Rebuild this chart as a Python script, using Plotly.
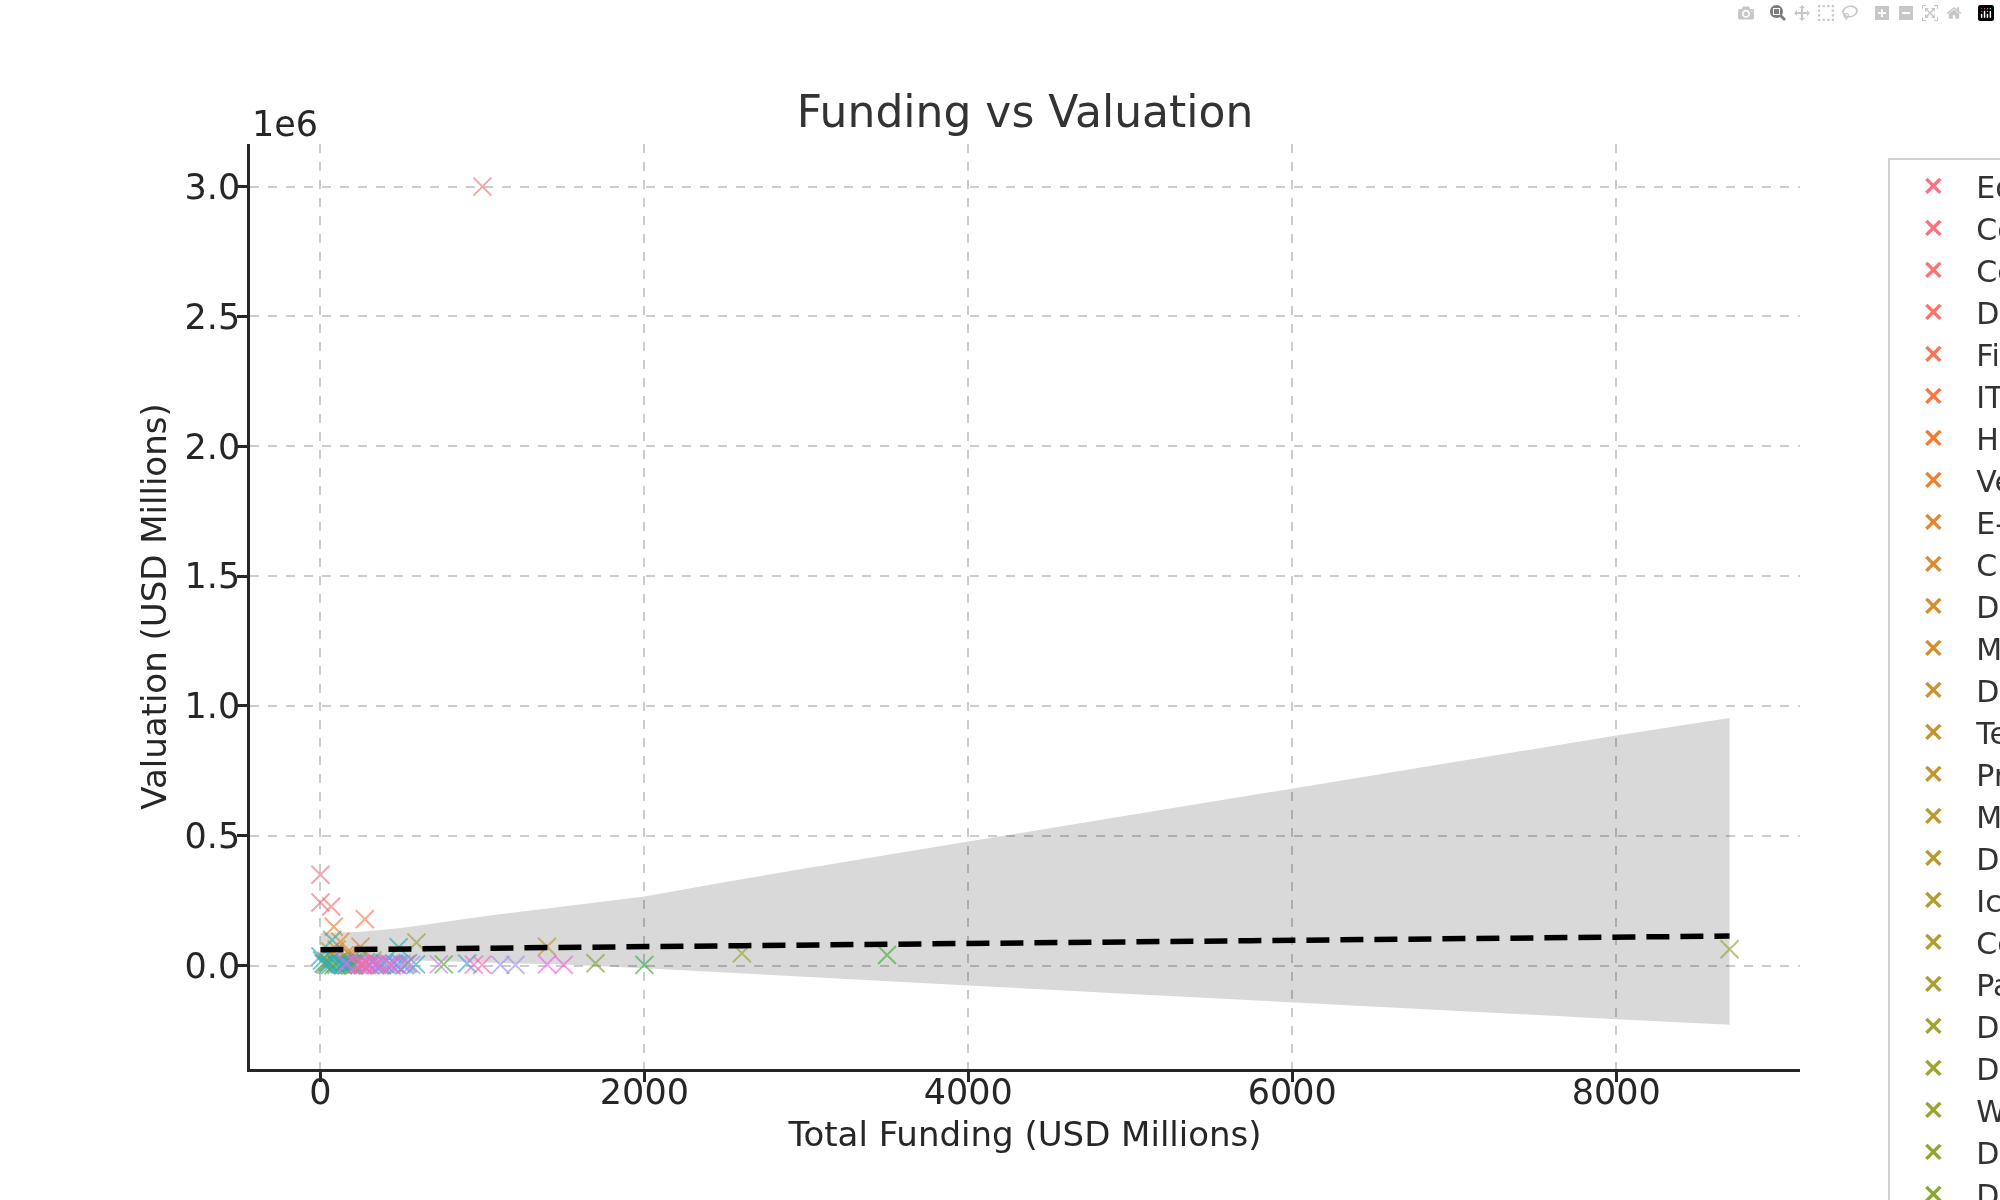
import math
import plotly.graph_objects as go

# industries in legend order (husl palette follows this order)
industries = [
    "EdTech", "Consumer Internet", "Computer Software", "Deeptech", "FinTech",
    "IT Services", "HealthTech", "Venture Capital", "E-Commerce", "Cloud Computing",
    "Digital Media", "Mobility", "Dairy", "Technology", "Professional Services",
    "Media", "Delivery", "Ice Cream", "Consumer Goods", "Payments",
    "Data Analytics", "Drone", "Wellness", "Design", "Digital Marketing",
    "Food & Beverages", "Gaming", "Hospitality", "Insurance", "Logistics",
    "Marketplace", "Nutrition", "Online Learning", "Pharmaceuticals", "Real Estate",
    "Retail", "SaaS", "Social Media", "Sports", "Travel",
    "AgriTech", "Artificial Intelligence", "Apparel", "Automotive", "Beauty",
    "Biotechnology", "Blockchain", "Clean Energy", "Content", "Cybersecurity",
    "Electric Vehicles", "Entertainment", "Fashion", "FMCG", "Gig Economy",
    "HR Tech", "IoT", "Jewellery", "Legal Tech", "Manufacturing",
    "Marketing", "Music", "News", "Personal Care", "Pet Care",
    "Recruitment", "Renewable Energy", "Robotics", "Security", "Skill Development",
    "Space Tech", "Telecom", "Textiles", "Transport", "Video Streaming",
    "Water Purification", "Wearables", "Home Services", "Hyperlocal", "Interior Design",
    "Kids", "Life Sciences", "Mental Health", "Mining", "Audio",
    "B2B", "Banking", "Augmented Reality",
]

# one entry per startup: industry index, total funding, valuation (USD millions)
point_industry = [0, 1, 2, 3, 4, 5, 6, 7, 8, 9, 9, 10, 11, 12, 13, 14, 15, 16, 17, 18,
                  19, 20, 21, 22, 23, 24, 25, 26, 27, 28, 29, 30, 30, 31, 32, 33, 34, 35, 36, 37,
                  38, 39, 40, 41, 42, 43, 44, 45, 46, 47, 47, 48, 49, 50, 51, 52, 53, 54, 55, 56,
                  57, 58, 59, 60, 61, 62, 63, 64, 65, 66, 67, 68, 69, 70, 71, 72, 73, 74, 75, 76,
                  77, 78, 79, 80, 81, 82, 83, 84, 85, 86, 87]
funding = [0, 0, 66, 1000, 40, 274, 180, 82, 247, 123, 150, 100, 200, 60, 230, 1399, 320, 140, 260, 380,
           593, 2602, 8700, 30, 200, 110, 80, 1698, 210, 90, 761, 3498, 190, 2000, 130, 50, 170, 150, 100, 200,
           280, 20, 140, 230, 60, 180, 10, 483, 72, 300, 590, 365, 470, 75, 45, 0, 540, 335, 395, 455,
           905, 520, 120, 160, 435, 500, 410, 320, 1204, 1111, 560, 480, 380, 731, 350, 255, 160, 1399, 440, 310,
           270, 1502, 220, 947, 350, 240, 290, 998, 425, 260, 530]
valuation = [350000, 243000, 228000, 3000000, 18000, 179000, 45000, 150000, 73000, 92000, 40000, 62000,
             30000, 55000, 25000, 73000, 20000, 4000, 6000, 2000,
             89000, 48000, 63000, 5000, 1000, 15000, 1000, 9000, 1000, 8000, 5000, 41000, 2000, 3000, 5000,
             12000, 3000, 10000, 3000, 12000,
             12000, 8000, 1000, 15000, 2000, 7000, 20000, 71000, 99000, 6000, 5000, 1000, 3000, 25000, 3000,
             35000, 9000, 3000, 9000, 8000,
             8000, 2000, 6000, 2000, 4000, 6000, 2000, 10000, 3000, 3000, 3000, 1000, 4000, 5000, 2000, 8000,
             9000, 5000, 1000, 2000,
             3000, 3000, 5000, 4000, 7000, 2000, 1000, 3000, 5000, 2000, 6000]

# regression fit and bootstrap confidence band
fit_x = [0, 8700]
fit_y = [61000, 114000]
band_x = [0, 250, 500, 1000, 1500, 2000, 2500, 3000, 4000, 5000, 6000, 7000, 8000, 8700]
band_hi = [126000, 131000, 145000, 189000, 228000, 266000, 322000, 375000, 478000, 580000,
           682000, 784000, 886000, 954000]
band_lo = [26000, 24000, 22000, 12000, 4000, -10000, -27000, -43000, -76000, -109000,
           -142000, -175000, -206000, -228000]

y_ticks = [0, 500000, 1000000, 1500000, 2000000, 2500000, 3000000]
y_tick_text = ["0.0", "0.5", "1.0", "1.5", "2.0", "2.5", "3.0"]
x_ticks = [0, 2000, 4000, 6000, 8000]


# seaborn-style husl palette
M = [[3.2406, -1.5372, -0.4986], [-0.9689, 1.8758, 0.0415], [0.0557, -0.2040, 1.0570]]
REF_U, REF_V = 0.19784, 0.46834


def max_chroma(L, H):
    hrad = math.radians(H)
    sinH, cosH = math.sin(hrad), math.cos(hrad)
    sub1 = (L + 16) ** 3 / 1560896.0
    sub2 = sub1 if sub1 > 0.008856 else L / 903.3
    result = float("inf")
    for m1, m2, m3 in M:
        top = (0.99915 * m1 + 1.05122 * m2 + 1.14460 * m3) * sub2
        rbottom = 0.86330 * m3 - 0.17266 * m2
        lbottom = 0.12949 * m3 - 0.38848 * m1
        bottom = (rbottom * sinH + lbottom * cosH) * sub2
        for t in (0.0, 1.0):
            C = L * (top - 1.05122 * t) / (bottom + 0.17266 * sinH * t)
            if 0 < C < result:
                result = C
    return result


def husl_to_hex(h, s, l):
    C = max_chroma(l, h) / 100.0 * s
    hrad = math.radians(h)
    U, V = math.cos(hrad) * C, math.sin(hrad) * C
    t = (l + 16.0) / 116.0
    Y = t ** 3 if t ** 3 > 0.008856 else (116.0 * t - 16.0) / 903.3
    varU = U / (13.0 * l) + REF_U
    varV = V / (13.0 * l) + REF_V
    X = -(9.0 * Y * varU) / ((varU - 4.0) * varV - varU * varV)
    Z = (9.0 * Y - 15.0 * varV * Y - varV * X) / (3.0 * varV)
    out = []
    for row in M:
        c = row[0] * X + row[1] * Y + row[2] * Z
        c = 12.92 * c if c <= 0.0031308 else 1.055 * c ** (1 / 2.4) - 0.055
        out.append(int(round(min(max(c, 0), 1) * 255)))
    return "#%02x%02x%02x" % tuple(out)


n = len(industries)
palette = [husl_to_hex(((i / n) + 0.01) % 1 * 359, 0.9 * 99, 0.65 * 99) for i in range(n)]

font = "DejaVu Sans"
ink = "#262626"

fig = go.Figure()

# confidence band
fig.add_trace(go.Scatter(x=band_x, y=band_lo, mode="lines", line=dict(width=0),
                         hoverinfo="skip", showlegend=False))
fig.add_trace(go.Scatter(x=band_x, y=band_hi, mode="lines", line=dict(width=0),
                         fill="tonexty", fillcolor="rgba(0,0,0,0.15)",
                         hoverinfo="skip", showlegend=False))

for i, name in enumerate(industries):
    xs = [funding[k] for k in range(len(funding)) if point_industry[k] == i]
    ys = [valuation[k] for k in range(len(valuation)) if point_industry[k] == i]
    fig.add_trace(go.Scatter(
        x=xs, y=ys, mode="markers", name=name, opacity=0.65, legendgroup=name, showlegend=False,
        marker=dict(symbol="x-thin", size=18, color=palette[i], line=dict(width=2, color=palette[i])),
    ))
    # solid legend key, like the matplotlib legend
    fig.add_trace(go.Scatter(
        x=[None], y=[None], mode="markers", name=name, legendgroup=name,
        marker=dict(symbol="x-thin", size=14, color=palette[i], line=dict(width=3.5, color=palette[i])),
    ))

# regression line
fig.add_trace(go.Scatter(x=fit_x, y=fit_y, mode="lines", showlegend=False,
                         line=dict(color="black", width=5.5, dash="23px,11px")))

fig.update_layout(
    width=2000, height=1200,
    margin=dict(l=250, r=200, t=144, b=131, autoexpand=False),
    paper_bgcolor="white", plot_bgcolor="white",
    font=dict(family=font, color=ink),
    title=dict(text="Funding vs Valuation", x=0.5, xref="paper", y=1 - 112 / 1200,
               yref="container", xanchor="center", yanchor="middle",
               font=dict(size=44, color="#333333")),
    legend=dict(x=1.057, y=0.985, xanchor="left", yanchor="top", traceorder="normal",
                bgcolor="rgba(255,255,255,0.8)", bordercolor="#d0d0d0", borderwidth=2,
                font=dict(size=30, color="#333333"), itemwidth=76, maxheight=2500),
    showlegend=True,
)

fig.update_xaxes(
    range=[-435, 9135], tickvals=x_ticks, showgrid=True, gridcolor="#cccccc", griddash="dash",
    gridwidth=1.5, zeroline=False, showline=True, linecolor=ink, linewidth=2.5,
    ticks="outside", ticklen=10, tickwidth=2.5, tickcolor=ink, ticklabelstandoff=-20,
    tickfont=dict(size=35, color=ink),
    title=dict(text="Total Funding (USD Millions)", font=dict(size=34, color=ink), standoff=12),
)
fig.update_yaxes(
    range=[-398000, 3164000], tickvals=y_ticks, ticktext=y_tick_text, showgrid=True,
    gridcolor="#cccccc", griddash="dash", gridwidth=1.5, zeroline=False, showline=True,
    linecolor=ink, linewidth=2.5, ticks="outside", ticklen=10, tickwidth=2.5, tickcolor=ink,
    ticklabelstandoff=-10, tickfont=dict(size=35, color=ink),
    title=dict(text="Valuation (USD Millions)", font=dict(size=34, color=ink), standoff=8),
)

fig.add_annotation(text="1e6", xref="paper", yref="paper", x=0, y=1, xanchor="left",
                   yanchor="middle", yshift=20, showarrow=False,
                   font=dict(size=35, color=ink))

# drop the page margin and scrollbars so the figure fills the window exactly
fig.write_html("out.html",
               post_script="document.body.style.margin = '0'; document.body.style.overflow = 'hidden';")
